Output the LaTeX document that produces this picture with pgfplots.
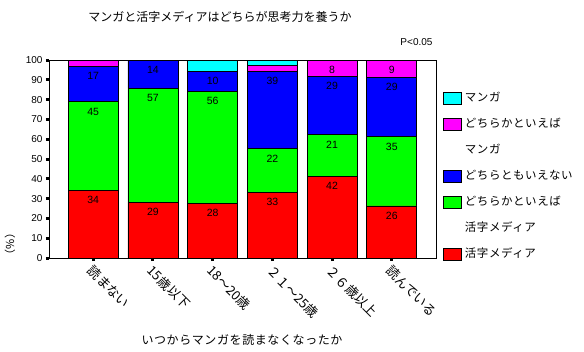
\documentclass[border=0pt]{standalone}
\usepackage{fontspec}
\setmainfont{Liberation Sans}
\newfontfamily\jp{Noto Sans CJK JP}
\newfontfamily\jps[LetterSpace=5]{Noto Sans CJK JP}
\usepackage{pgfplots}
\pgfplotsset{compat=1.18}
\definecolor{cR}{RGB}{255,0,0}
\definecolor{cG}{RGB}{0,255,0}
\definecolor{cB}{RGB}{0,0,255}
\definecolor{cM}{RGB}{255,0,255}
\definecolor{cC}{RGB}{0,255,255}
\begin{document}
\begin{tikzpicture}
\path[use as bounding box] (0,0) rectangle (584pt,-351pt);
\begin{axis}[
  at={(49pt,-258pt)}, anchor=south west,
  scale only axis, width=387pt, height=198pt,
  ybar stacked, bar width=50pt,
  xmin=-0.74, xmax=5.74, ymin=0, ymax=100,
  xtick={0,1,2,3,4,5},
  xticklabels={読まない,15歳以下,18〜20歳,２１〜25歳,２６歳以上,読んでいる},
  ytick={0,10,...,100},
  tick pos=left, tick align=outside, major tick length=3pt,
  tick style={line width=3pt, black},
  axis line style={line width=0.7pt},
  /pgf/number format/assume math mode=true,
  yticklabel style={font=\fontsize{10}{10}\selectfont},
  xticklabel style={font=\jp\fontsize{13}{13}\selectfont, rotate=-45, anchor=north west, inner sep=1pt, xshift=2pt},
  every axis plot/.append style={draw=black, line width=0.7pt},
  visualization depends on={rawy \as \rawy},
  nodes near coords style={anchor=center, yshift={\rawy*0.99pt-10pt}, font=\fontsize{10.5}{10.5}\selectfont, text=black},
  legend image code/.code={\draw[#1, line width=0.7pt] (0pt,-6pt) rectangle (18pt,6pt);},
  legend cell align=left,
  legend style={at={(1.018,0.843)}, anchor=north west, draw=none, fill=none, inner sep=0pt,
    row sep=12pt, column sep=2pt,
    nodes={font=\jps\fontsize{11.5}{11.5}\selectfont, text height=9pt, text depth=3pt, inner sep=1pt}},
]
\addplot[fill=cR, forget plot, nodes near coords, point meta=explicit symbolic] coordinates
  {(0,34.2)[34] (1,28.1)[29] (2,27.6)[28] (3,33.2)[33] (4,41.3)[42] (5,26.3)[26]};
\addplot[fill=cG, forget plot, nodes near coords, point meta=explicit symbolic] coordinates
  {(0,44.7)[45] (1,57.6)[57] (2,56.6)[56] (3,22.0)[22] (4,21.0)[21] (5,35.1)[35]};
\addplot[fill=cB, forget plot, nodes near coords, point meta=explicit symbolic] coordinates
  {(0,17.9)[17] (1,14.3)[14] (2,10.1)[10] (3,39.1)[39] (4,29.5)[29] (5,29.9)[29]};
\addplot[fill=cM, forget plot, nodes near coords, point meta=explicit symbolic] coordinates
  {(0,3.2)[] (1,0)[] (2,0)[] (3,3.0)[] (4,8.2)[8] (5,8.7)[9]};
\addplot[fill=cC, forget plot] coordinates
  {(0,0) (1,0) (2,5.7) (3,2.7) (4,0) (5,0)};
\addlegendimage{fill=cC, draw=black}
\addlegendentry{マンガ}
\addlegendimage{fill=cM, draw=black}
\addlegendentry{どちらかといえば}
\addlegendimage{empty legend}
\addlegendentry{マンガ}
\addlegendimage{fill=cB, draw=black}
\addlegendentry{どちらともいえない}
\addlegendimage{fill=cG, draw=black}
\addlegendentry{どちらかといえば}
\addlegendimage{empty legend}
\addlegendentry{活字メディア}
\addlegendimage{fill=cR, draw=black}
\addlegendentry{活字メディア}
\end{axis}
\node[font=\jp\fontsize{12}{12}\selectfont] at (220pt,-17pt) {マンガと活字メディアはどちらが思考力を養うか};
\node[anchor=east, font=\fontsize{10}{10}\selectfont] at (436pt,-42pt) {P<0.05};
\node[rotate=90, font=\jp\fontsize{11}{11}\selectfont] at (10pt,-244pt) {（\%）};
\node[font=\jps\fontsize{12}{12}\selectfont] at (242pt,-340pt) {いつからマンガを読まなくなったか};
\end{tikzpicture}
\end{document}
